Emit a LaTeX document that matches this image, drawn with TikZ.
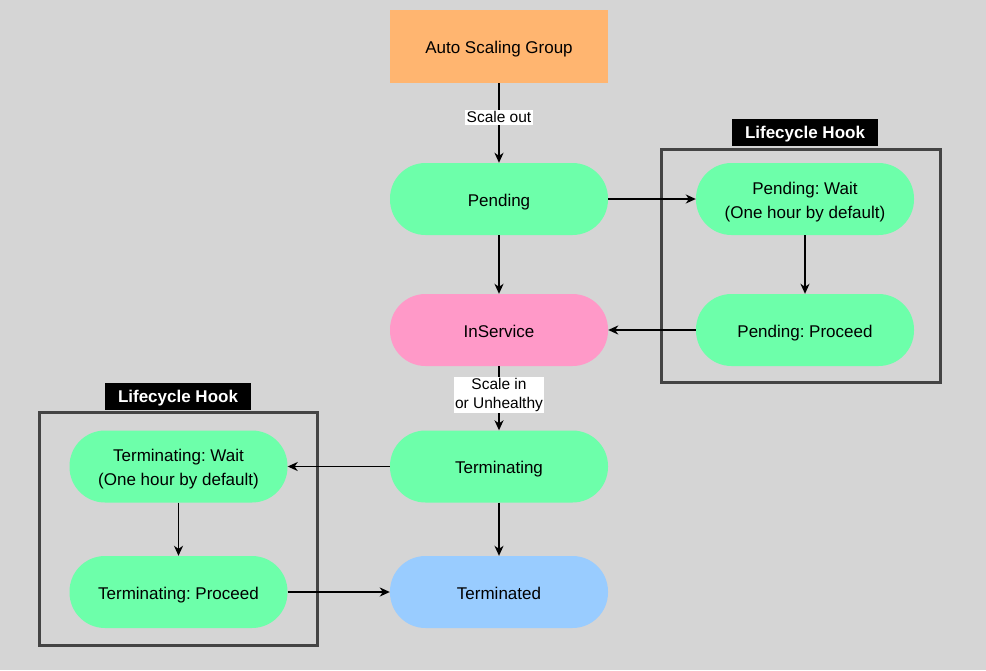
\documentclass[tikz,border=0pt]{standalone}
\usepackage{fontspec}
\setmainfont{Liberation Sans}
\frenchspacing
\usetikzlibrary{arrows.meta}
\definecolor{bgc}{HTML}{D5D5D5}
\definecolor{grn}{HTML}{6DFFAA}
\definecolor{pnk}{HTML}{FF99C8}
\definecolor{blu}{HTML}{99CCFF}
\definecolor{org}{HTML}{FFB570}
\definecolor{frm}{HTML}{444444}
\newcommand\ctxt[1]{\setbox0\hbox{\begin{tabular}{@{}c@{}}#1\end{tabular}}\ht0=\dimexpr\ht0+5pt\relax\box0}
\newcommand\htxt[1]{\setbox0\hbox{#1}\ht0=\dimexpr\ht0+4pt\relax\box0}
\tikzset{
  pill/.style={rectangle, rounded corners=35.5pt, minimum width=218pt, minimum height=72pt, inner sep=0pt, align=center, font=\fontsize{17}{24}\selectfont, text=black},
  hookframe/.style={draw=frm, line width=3pt},
  hooklabel/.style={fill=black, text=white, font=\bfseries\fontsize{17}{20}\selectfont, minimum width=146pt, minimum height=27pt, inner sep=0pt},
  edgelabel/.style={fill=white, font=\fontsize{15.5}{19}\selectfont, inner sep=1.5pt, align=center},
  arr/.style={-{Stealth[length=10pt,width=9pt,inset=3pt]}, line width=1.5pt, black}
}
\begin{document}
\begin{tikzpicture}[x=1pt,y=-1pt]
\useasboundingbox (0,0) rectangle (986,670);
\fill[bgc] (0,0) rectangle (986,670);
% hook frames
\draw[hookframe] (661,149) rectangle (940,382);
\node[hooklabel] (hookR) at (805,132.5) {\htxt{Lifecycle Hook}};
\draw[hookframe] (39,412) rectangle (317,645);
\node[hooklabel] (hookL) at (178,396.5) {\htxt{Lifecycle Hook}};
% main nodes
\node[rectangle, fill=org, minimum width=218pt, minimum height=73pt, inner sep=0pt, font=\fontsize{17}{24}\selectfont] (asg) at (499,46.5) {\ctxt{Auto Scaling Group}};
\node[pill, fill=grn] (pend) at (499,199) {\ctxt{Pending}};
\node[pill, fill=pnk] (insv) at (499,330) {\ctxt{InService}};
\node[pill, fill=grn] (term) at (499,466.5) {\ctxt{Terminating}};
\node[pill, fill=blu] (termd) at (499,592) {\ctxt{Terminated}};
\node[pill, fill=grn] (pwait) at (805,199) {\ctxt{Pending: Wait\\(One hour by default)}};
\node[pill, fill=grn] (pproc) at (805,330) {\ctxt{Pending: Proceed}};
\node[pill, fill=grn] (twait) at (178.5,466.5) {\ctxt{Terminating: Wait\\(One hour by default)}};
\node[pill, fill=grn] (tproc) at (178.5,592) {\ctxt{Terminating: Proceed}};
% connectors
\draw[arr] (asg) -- node[edgelabel, pos=0.43] (lblout) {Scale out} (pend);
\draw[arr] (pend) -- (pwait);
\draw[arr] (pend) -- (insv);
\draw[arr] (pwait) -- (pproc);
\draw[arr] (pproc) -- (insv);
\draw[arr] (insv) -- node[edgelabel, pos=0.45] (lblin) {Scale in\\or Unhealthy} (term);
\draw[arr] (term) -- (twait);
\draw[arr] (twait) -- (tproc);
\draw[arr] (tproc) -- (termd);
\draw[arr] (term) -- (termd);
\end{tikzpicture}
\end{document}
